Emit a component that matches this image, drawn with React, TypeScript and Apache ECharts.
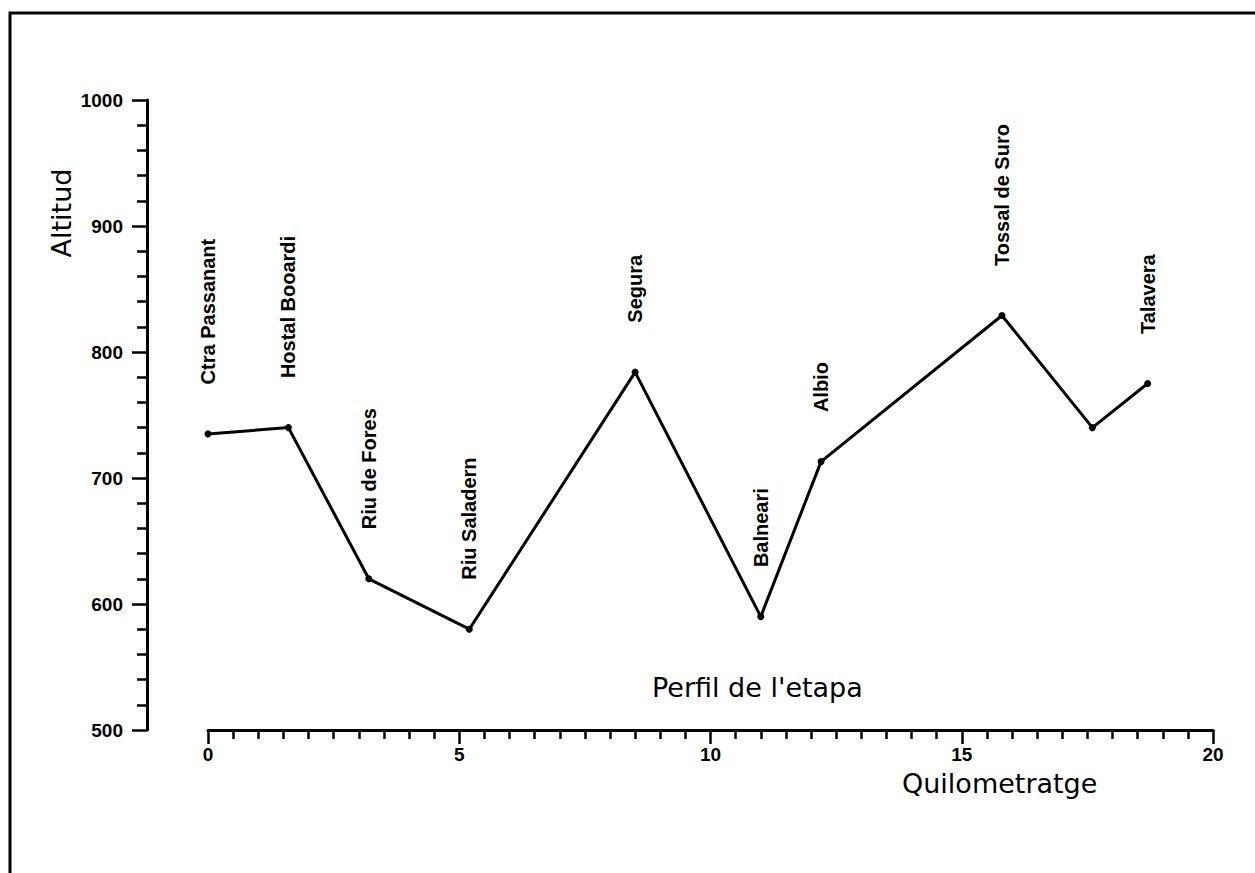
import React, { useEffect, useRef } from "react";
import * as echarts from "echarts";

const km = [0, 1.6, 3.2, 5.2, 8.5, 11.0, 12.2, 15.8, 17.6, 18.7];
const altitude = [735, 740, 620, 580, 784, 590, 713, 829, 740, 775];
const placeNames = [
  "Ctra Passanant",
  "Hostal Booardi",
  "Riu de Fores",
  "Riu Saladern",
  "Segura",
  "Balneari",
  "Albio",
  "Tossal de Suro",
  "",
  "Talavera",
];
const xTicks = [0, 5, 10, 15, 20];
const yTicks = [500, 600, 700, 800, 900, 1000];

export default function App() {
  const ref = useRef<HTMLDivElement>(null);
  useEffect(() => {
    if (!ref.current) return;
    const chart = echarts.init(ref.current, null, { renderer: "svg" });
    const data = km.map((k, i) => ({ value: [k, altitude[i]], name: placeNames[i] }));
    chart.setOption({
      animation: false,
      backgroundColor: "#ffffff",
      grid: { left: 208, right: 42, top: 100, bottom: 143 },
      xAxis: {
        type: "value",
        min: xTicks[0],
        max: xTicks[xTicks.length - 1],
        interval: 5,
        axisLine: { show: true, onZero: false, lineStyle: { color: "#000", width: 3 } },
        axisTick: { show: true, length: 14, lineStyle: { color: "#000", width: 2.5 } },
        minorTick: { show: true, splitNumber: 10, length: 9, lineStyle: { color: "#000", width: 2.5 } },
        splitLine: { show: false },
        axisLabel: {
          margin: 15,
          color: "#000",
          fontFamily: "Liberation Sans",
          fontWeight: "bold",
          fontSize: 19,
          formatter: (v: number) => String(v),
        },
      },
      yAxis: {
        type: "value",
        min: yTicks[0],
        max: yTicks[yTicks.length - 1],
        interval: 100,
        offset: 61,
        axisLine: { show: true, onZero: false, lineStyle: { color: "#000", width: 3 } },
        axisTick: { show: true, length: 15, lineStyle: { color: "#000", width: 2.5 } },
        minorTick: { show: true, splitNumber: 5, length: 10, lineStyle: { color: "#000", width: 2.5 } },
        splitLine: { show: false },
        axisLabel: {
          margin: 24,
          color: "#000",
          fontFamily: "Liberation Sans",
          fontWeight: "bold",
          fontSize: 19,
          formatter: (v: number) => String(v),
        },
      },
      series: [
        {
          type: "line",
          data,
          symbol: "circle",
          symbolSize: 7,
          itemStyle: { color: "#000" },
          lineStyle: { color: "#000", width: 3 },
          label: {
            show: true,
            formatter: "{b}",
            position: "top",
            distance: 46,
            rotate: 90,
            align: "left",
            verticalAlign: "middle",
            color: "#000",
            fontFamily: "Liberation Sans",
            fontWeight: "bold",
            fontSize: 20,
          },
        },
      ],
      graphic: [
        {
          type: "polyline",
          shape: { points: [[10, 873], [10, 13], [1255, 13]] },
          style: { stroke: "#000", lineWidth: 3, fill: "none" },
          silent: true,
        },
        {
          type: "text",
          x: 652,
          y: 687,
          style: {
            text: "Perfil de l'etapa",
            fontFamily: "DejaVu Sans",
            fontSize: 27,
            fill: "#000",
            align: "left",
            verticalAlign: "middle",
          },
        },
        {
          type: "text",
          x: 902,
          y: 783,
          style: {
            text: "Quilometratge",
            fontFamily: "DejaVu Sans",
            fontSize: 27,
            fill: "#000",
            align: "left",
            verticalAlign: "middle",
          },
        },
        {
          type: "text",
          x: 61,
          y: 213,
          rotation: Math.PI / 2,
          style: {
            text: "Altitud",
            fontFamily: "DejaVu Sans",
            fontSize: 27,
            fill: "#000",
            align: "center",
            verticalAlign: "middle",
          },
        },
      ],
    });
    return () => chart.dispose();
  }, []);
  return (
    <div
      ref={ref}
      style={{ position: "absolute", left: 0, top: 0, width: 1255, height: 873 }}
    />
  );
}
